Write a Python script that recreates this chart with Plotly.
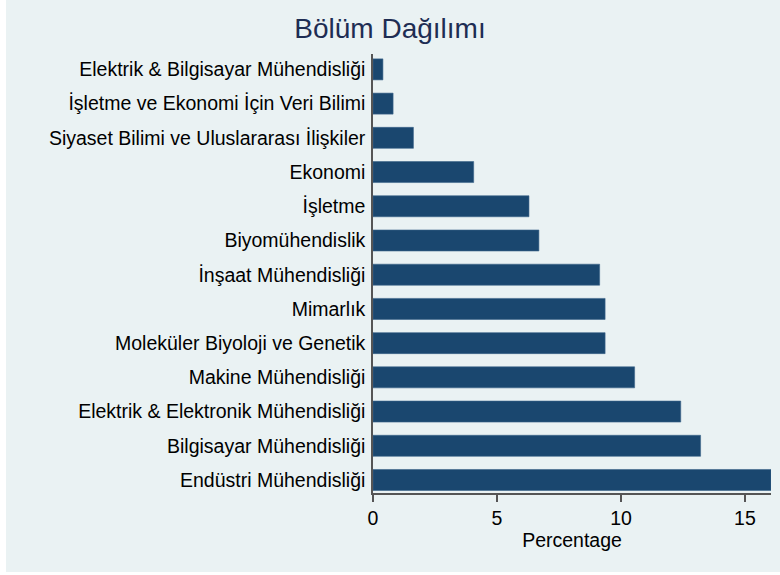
import plotly.graph_objects as go

# Data (top to bottom as in the reference)
departments = [
    "Elektrik & Bilgisayar Mühendisliği",
    "İşletme ve Ekonomi İçin Veri Bilimi",
    "Siyaset Bilimi ve Uluslararası İlişkiler",
    "Ekonomi",
    "İşletme",
    "Biyomühendislik",
    "İnşaat Mühendisliği",
    "Mimarlık",
    "Moleküler Biyoloji ve Genetik",
    "Makine Mühendisliği",
    "Elektrik & Elektronik Mühendisliği",
    "Bilgisayar Mühendisliği",
    "Endüstri Mühendisliği",
]
percentages = [0.40, 0.81, 1.63, 4.06, 6.29, 6.69, 9.14, 9.36, 9.36, 10.55, 12.41, 13.21, 16.05]
x_ticks = [0, 5, 10, 15]

cats = departments[::-1]
vals = percentages[::-1]

BG = "#EAF2F3"
BAR = "#1A476F"
FONT = "Liberation Sans, Arial, sans-serif"

W, H = 780, 575
L, R, T, B = 373, 9, 54, 82
pw = W - L - R
ph = H - T - B

fig = go.Figure()
fig.add_trace(go.Bar(
    x=vals, y=cats, orientation="h",
    marker=dict(color=BAR, line=dict(color="#3d6589", width=0.6)),
    width=0.614,
    hoverinfo="x+y",
))

fig.add_shape(
    type="rect", xref="paper", yref="paper", layer="below",
    x0=(6 - L) / pw, x1=(W - L) / pw,
    y0=(H - B - 572) / ph, y1=(H - B) / ph,
    fillcolor=BG, line=dict(width=0),
)

fig.update_layout(
    width=W, height=H,
    margin=dict(l=L, r=R, t=T, b=B, pad=0, autoexpand=False),
    paper_bgcolor="white",
    plot_bgcolor="rgba(0,0,0,0)",
    showlegend=False,
    font=dict(family=FONT, color="black", size=19.5),
    title=dict(
        text="Bölüm Dağılımı",
        x=0.5, xref="container", xanchor="center",
        y=1 - 28 / H, yref="container", yanchor="middle",
        font=dict(family=FONT, size=28, color="#1E2D53"),
    ),
)

fig.update_xaxes(
    range=[0, 16.05],
    tickvals=x_ticks, ticktext=[str(v) for v in x_ticks],
    ticks="outside", ticklen=7, tickwidth=1.5, tickcolor="#555555",
    showline=True, linecolor="#555555", linewidth=1.5,
    showgrid=False, zeroline=False, automargin=False,
    tickfont=dict(size=19.5, color="black"),
    title=dict(text="Percentage", font=dict(size=19.5, color="black"), standoff=0),
)
fig.update_yaxes(
    type="category",
    categoryorder="array", categoryarray=cats,
    range=[-0.38, 12.45],
    showline=True, linecolor="#555555", linewidth=1.5,
    ticks="", showgrid=False, zeroline=False, automargin=False,
    tickfont=dict(size=19.5, color="black"),
    ticklabelstandoff=2,
)

fig.write_html(
    "out.html",
    config={"displayModeBar": False},
    post_script="document.body.style.margin='0';document.body.style.overflow='hidden';",
)
